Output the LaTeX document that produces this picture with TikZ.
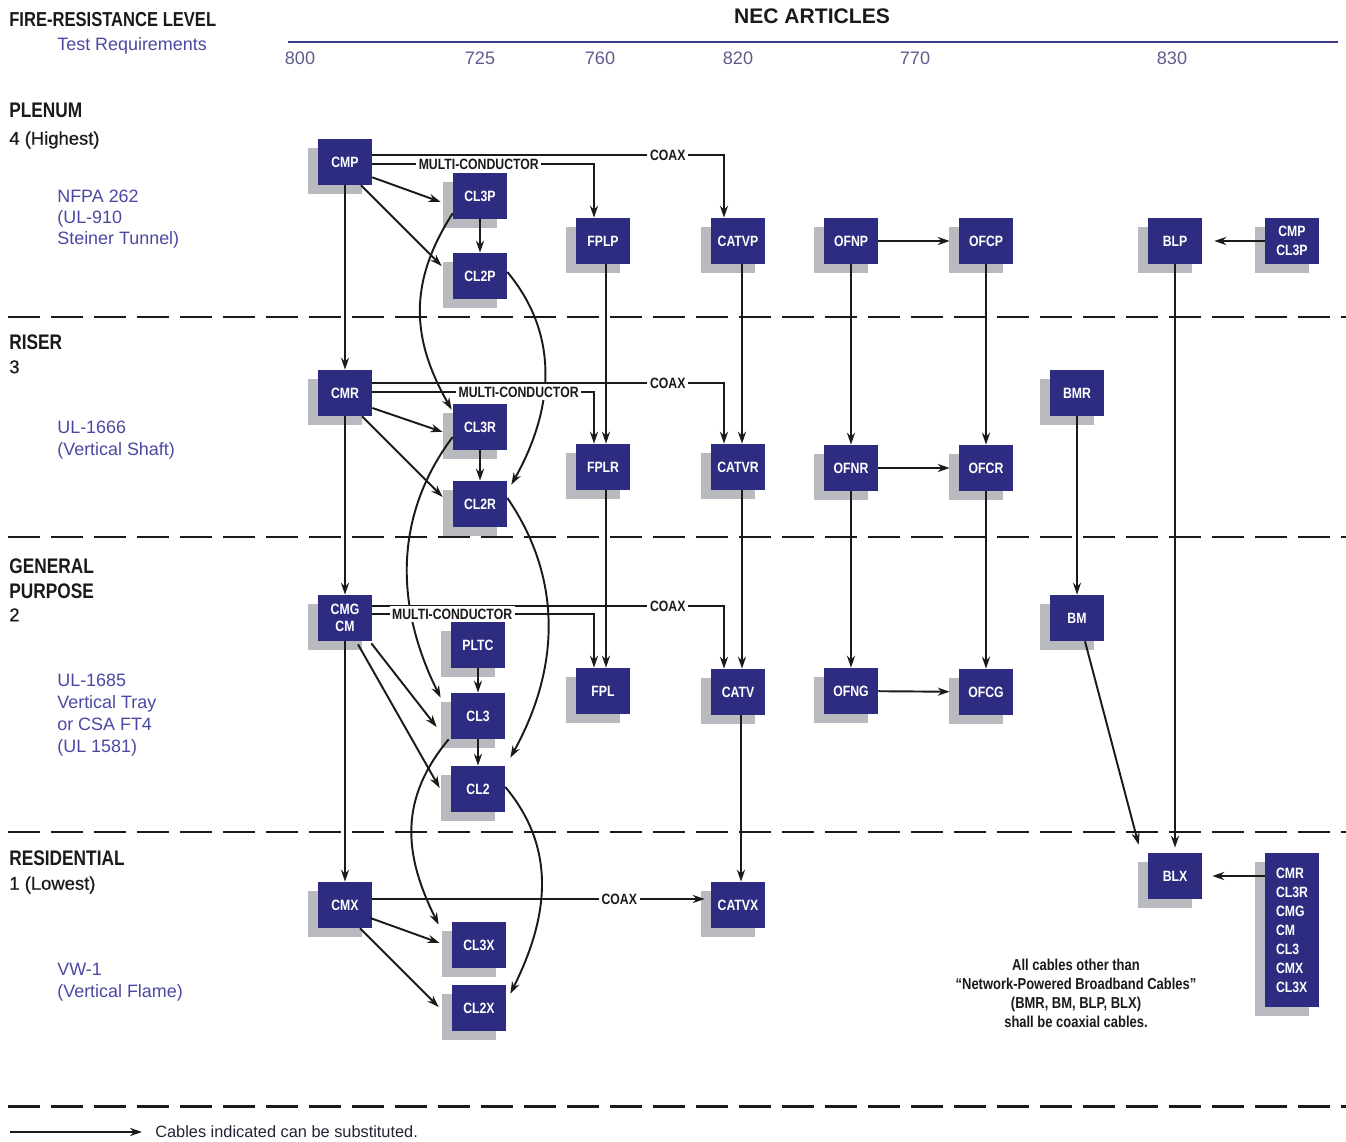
\documentclass[tikz,border=0pt]{standalone}
\usepackage{fontspec}
\setmainfont{Liberation Sans}
\newfontfamily\narrowfont[FakeStretch=0.82]{Liberation Sans}
\newfontfamily\mediumfont[FakeBold=0.6]{Liberation Sans}
\usepackage{tikz}
\usetikzlibrary{arrows.meta, positioning, calc, shadows}
\definecolor{cablenavy}{HTML}{2E2C80}
\definecolor{shadowgray}{HTML}{B9B9C0}
\definecolor{testblue}{HTML}{4B48A2}
\definecolor{articlegray}{HTML}{5E5C8C}
\definecolor{rulenavy}{HTML}{3E3C8E}
\definecolor{inkdark}{HTML}{1A1A1A}
\tikzstyle{cable} = [rectangle, minimum width=1.08cm, minimum height=0.92cm, inner sep=0pt, fill=cablenavy, text=white, align=center, font=\narrowfont\bfseries\fontsize{8.5}{10.8}\selectfont, drop shadow={shadow xshift=-0.2cm, shadow yshift=-0.18cm, fill=shadowgray, opacity=1}]
\tikzstyle{arrow} = [line width=1.1pt, -{Stealth[length=6.8pt, width=4.6pt]}, color=inkdark]
\tikzstyle{tag} = [fill=white, inner sep=1.5pt, text=inkdark, font=\narrowfont\bfseries\fontsize{8.5}{10}\selectfont]
\tikzstyle{levelname} = [anchor=north west, inner sep=0pt, align=left, text=inkdark, font=\narrowfont\bfseries\fontsize{12}{14.2}\selectfont]
\tikzstyle{levelnum} = [anchor=north west, inner sep=0pt, text=inkdark, font=\mediumfont\fontsize{10.5}{12}\selectfont]
\tikzstyle{testreq} = [anchor=north west, inner sep=0pt, align=left, text=testblue, font=\fontsize{10.2}{12.3}\selectfont]
\tikzstyle{article} = [inner sep=0pt, text=articlegray, font=\fontsize{10.3}{12}\selectfont]
\tikzstyle{levelline} = [line width=1.7pt, dash pattern=on 0.64cm off 0.22cm, color=inkdark]
\begin{document}
\begin{tikzpicture}[x=0.02cm, y=-0.02cm]
    \useasboundingbox (0,0) rectangle (1346,1142);

    % header
    \node[levelname, font=\narrowfont\bfseries\fontsize{11.5}{13}\selectfont] (firelevel) at (9,12) {FIRE-RESISTANCE LEVEL};
    \node[testreq] (testhead) at (57,37) {Test Requirements};
    \node[text=inkdark, font=\bfseries\fontsize{12}{14}\selectfont] (nec) at (812,16) {NEC ARTICLES};
    \draw[rulenavy, line width=1.7pt] (288,42) -- (1338,42);
    \foreach \num/\xpos in {800/300, 725/480, 760/600, 820/738, 770/915, 830/1172}
        \node[article] (art\num) at (\xpos,58) {\num};

    \foreach \ypos in {317, 537, 832, 1106}
        \draw[levelline] (8,\ypos) -- (1346,\ypos);

    % levels
    \node[levelname] (plenum) at (9,103) {PLENUM};
    \node[levelnum] (plenumrank) at (9,131) {4 (Highest)};
    \node[testreq, font=\fontsize{10.2}{11.9}\selectfont] (plenumtest) at (57,190) {NFPA 262\\(UL-910\\Steiner Tunnel)};
    \node[levelname] (riser) at (9,334) {RISER};
    \node[levelnum] (riserrank) at (9,360) {3};
    \node[testreq] (risertest) at (57,421) {UL-1666\\(Vertical Shaft)};
    \node[levelname] (general) at (9,558) {GENERAL\\PURPOSE};
    \node[levelnum] (generalrank) at (9,608) {2};
    \node[testreq, font=\fontsize{10.2}{12.5}\selectfont] (generaltest) at (57,674) {UL-1685\\Vertical Tray\\or CSA FT4\\(UL 1581)};
    \node[levelname] (residential) at (9,850) {RESIDENTIAL};
    \node[levelnum] (residentialrank) at (9,876) {1 (Lowest)};
    \node[testreq, font=\fontsize{10.2}{12.5}\selectfont] (residentialtest) at (57,963) {VW-1\\(Vertical Flame)};

    % cables
    \node[cable] (cmp) at (345,162) {CMP};
    \node[cable] (cl3p) at (480,196) {CL3P};
    \node[cable] (cl2p) at (480,276) {CL2P};
    \node[cable] (fplp) at (603,241) {FPLP};
    \node[cable] (catvp) at (738,241) {CATVP};
    \node[cable] (ofnp) at (851,241) {OFNP};
    \node[cable] (ofcp) at (986,241) {OFCP};
    \node[cable] (blp) at (1175,241) {BLP};
    \node[cable] (blpsub) at (1292,241) {CMP\\CL3P};

    \node[cable] (cmr) at (345,393) {CMR};
    \node[cable] (cl3r) at (480,427) {CL3R};
    \node[cable] (cl2r) at (480,504) {CL2R};
    \node[cable] (fplr) at (603,467) {FPLR};
    \node[cable] (catvr) at (738,467) {CATVR};
    \node[cable] (ofnr) at (851,468) {OFNR};
    \node[cable] (ofcr) at (986,468) {OFCR};
    \node[cable] (bmr) at (1077,393) {BMR};

    \node[cable, font=\narrowfont\bfseries\fontsize{8.5}{9.6}\selectfont] (cmg) at (345,618) {CMG\\CM};
    \node[cable] (pltc) at (478,645) {PLTC};
    \node[cable] (cl3) at (478,716) {CL3};
    \node[cable] (cl2) at (478,789) {CL2};
    \node[cable] (fpl) at (603,691) {FPL};
    \node[cable] (catv) at (738,692) {CATV};
    \node[cable] (ofng) at (851,691) {OFNG};
    \node[cable] (ofcg) at (986,692) {OFCG};
    \node[cable] (bm) at (1077,618) {BM};

    \node[cable] (cmx) at (345,905) {CMX};
    \node[cable] (cl3x) at (479,945) {CL3X};
    \node[cable] (cl2x) at (479,1008) {CL2X};
    \node[cable] (catvx) at (738,905) {CATVX};
    \node[cable] (blx) at (1175,876) {BLX};
    \node[cable, minimum height=3.1cm, align=left] (blxsub) at (1292,930) {CMR\\CL3R\\CMG\\CM\\CL3\\CMX\\CL3X};

    \node[align=center, text=inkdark, font=\narrowfont\bfseries\fontsize{9}{10.8}\selectfont] (note) at (1076,993) {All cables other than\\“Network-Powered Broadband Cables”\\(BMR, BM, BLP, BLX)\\shall be coaxial cables.};

    % curved substitutions
    \draw[arrow] ($(cl3p.south west)+(0,-6)$) .. controls +(-45,70) and +(-40,-70) .. ($(cl3r.north west)+(-1,6)$);
    \draw[arrow] ($(cl2p.east)+(0,-4)$) .. controls +(50,60) and +(45,-80) .. ($(cl2r.north east)+(4,4)$);
    \draw[arrow] ($(cl3r.west)+(0,10)$) .. controls +(-60,80) and +(-45,-90) .. ($(cl3.north west)+(-10,5)$);
    \draw[arrow] ($(cl2r.east)+(0,-6)$) .. controls +(55,80) and +(50,-90) .. ($(cl2.north east)+(5,-8)$);
    \draw[arrow] ($(cl3.south west)+(-2,0)$) .. controls +(-50,60) and +(-35,-70) .. ($(cl3x.north west)+(-13,3)$);
    \draw[arrow] ($(cl2.east)+(0,-2)$) .. controls +(50,60) and +(40,-80) .. ($(cl2x.north east)+(4,9)$);

    % plenum
    \draw[arrow] (cmp) -- (cmr);
    \draw[arrow] ($(cmp.south east)+(0,-8)$) -- ($(cl3p.west)+(-12,6)$);
    \draw[arrow] ($(cmp.south)+(16,0)$) -- ($(cl2p.west)+(-11,-10)$);
    \draw[arrow] (cl3p) -- (cl2p);
    \draw[arrow] ($(cmp.east)+(0,-7)$) -| ([xshift=-0.28cm]catvp.north) node[tag, pos=0.42] {COAX};
    \draw[arrow] ($(cmp.east)+(0,2)$) -| ([xshift=-0.18cm]fplp.north) node[tag, pos=0.24] {MULTI-CONDUCTOR};
    \draw[arrow, shorten >=0.18cm] (ofnp) -- (ofcp);
    \draw[arrow, shorten >=0.24cm] (blpsub) -- (blp);

    % riser
    \draw[arrow] (cmr) -- (cmg);
    \draw[arrow] ($(cmr.east)+(0,15)$) -- ($(cl3r.west)+(-10,5)$);
    \draw[arrow] ($(cmr.south)+(17,0)$) -- ($(cl2r.west)+(-10,-7)$);
    \draw[arrow] (cl3r) -- (cl2r);
    \draw[arrow] ($(cmr.east)+(0,-10)$) -| ([xshift=-0.28cm]catvr.north) node[tag, pos=0.42] {COAX};
    \draw[arrow] ($(cmr.east)+(0,-1)$) -| ([xshift=-0.18cm]fplr.north) node[tag, pos=0.33] {MULTI-CONDUCTOR};
    \draw[arrow] ([xshift=0.06cm]fplp.south) -- ([xshift=0.06cm]fplr.north);
    \draw[arrow] ([xshift=0.08cm]catvp.south) -- ([xshift=0.08cm]catvr.north);
    \draw[arrow] (ofnp) -- (ofnr);
    \draw[arrow] (ofcp) -- (ofcr);
    \draw[arrow, shorten >=0.18cm] (ofnr) -- (ofcr);

    % general purpose
    \draw[arrow] (cmg) -- (cmx);
    \draw[arrow] ($(cmg.south east)+(-1,2)$) -- ($(cl3.west)+(-14,11)$);
    \draw[arrow] ($(cmg.south)+(13,3)$) -- ($(cl2.west)+(-11,-1)$);
    \draw[arrow] (pltc) -- (cl3);
    \draw[arrow] (cl3) -- (cl2);
    \draw[arrow] ($(cmg.east)+(0,-12)$) -| ([xshift=-0.28cm]catv.north) node[tag, pos=0.42] {COAX};
    \draw[arrow] ($(cmg.east)+(0,-4)$) -| ([xshift=-0.18cm]fpl.north) node[tag, pos=0.18] {MULTI-CONDUCTOR};
    \draw[arrow] ([xshift=0.06cm]fplr.south) -- ([xshift=0.06cm]fpl.north);
    \draw[arrow] ([xshift=0.08cm]catvr.south) -- ([xshift=0.08cm]catv.north);
    \draw[arrow] (ofnr) -- (ofng);
    \draw[arrow] (ofcr) -- (ofcg);
    \draw[arrow, shorten >=0.18cm] (ofng) -- (ofcg);
    \draw[arrow] (bmr) -- (bm);

    % residential
    \draw[arrow] ($(cmx.east)+(-2,13)$) -- ($(cl3x.west)+(-12,-2)$);
    \draw[arrow] ($(cmx.south)+(15,0)$) -- ($(cl2x.west)+(-13,-1)$);
    \draw[arrow, shorten >=0.12cm] ($(cmx.east)+(0,-6)$) -- ($(catvx.west)+(0,-6)$) node[tag, pos=0.73] {COAX};
    \draw[arrow] ([xshift=0.06cm]catv.south) -- ([xshift=0.06cm]catvx.north);
    \draw[arrow, shorten >=0.1cm] (blp) -- (blx);
    \draw[arrow] ($(bm.south)+(8,0)$) -- ($(blx.north west)+(-9,-8)$);
    \draw[arrow, shorten >=0.2cm] (blxsub.west |- blx.east) -- (blx.east);

    % key
    \coordinate (keyfrom) at (10,1132);
    \coordinate (keyto) at (142,1132);
    \draw[arrow] (keyfrom) -- (keyto);
    \node[anchor=west, inner sep=0pt, text=inkdark!80!testblue, font=\fontsize{9.3}{11}\selectfont] (keytext) at (155,1132) {Cables indicated can be substituted.};
\end{tikzpicture}
\end{document}
